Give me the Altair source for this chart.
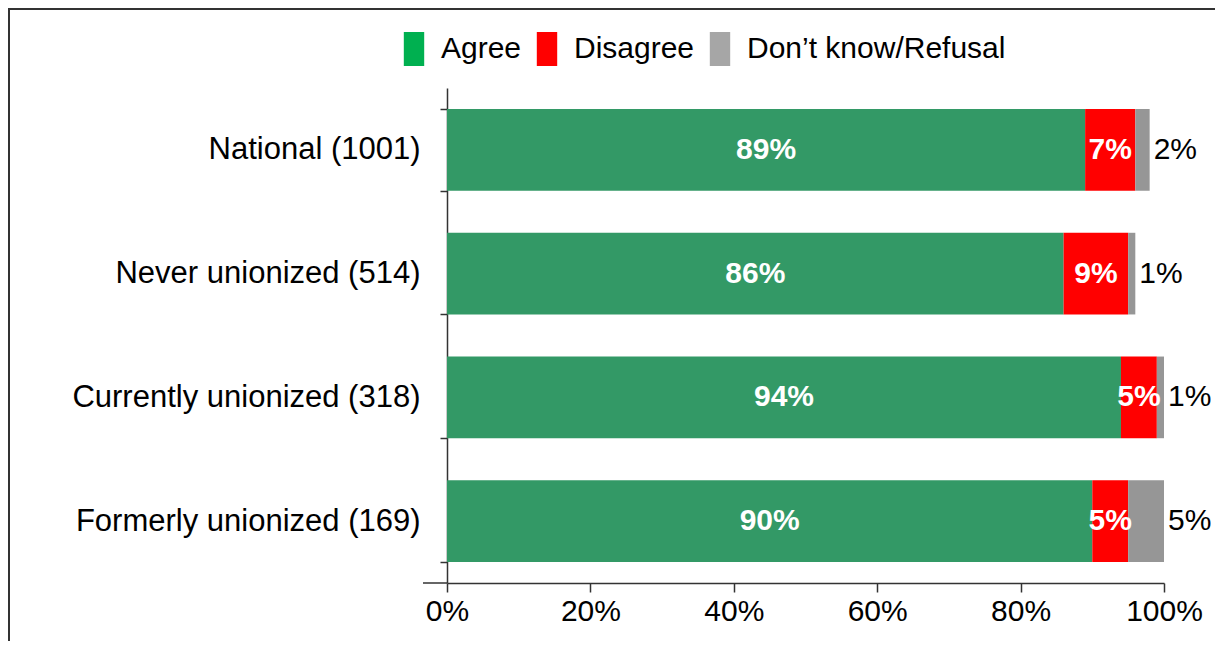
import altair as alt
import pandas as pd

groups = ["National (1001)", "Never unionized (514)", "Currently unionized (318)", "Formerly unionized (169)"]
responses = ["Agree", "Disagree", "Don\u2019t know/Refusal"]
agree = [89, 86, 94, 90]
disagree = [7, 9, 5, 5]
dontknow = [2, 1, 1, 5]

bar_colors = ["#339966", "#FF0000", "#969696"]
legend_colors = ["#00B050", "#FF0000", "#A6A6A6"]

rows = []
for i, g in enumerate(groups):
    for j, vals in enumerate([agree, disagree, dontknow]):
        rows.append({"group": g, "response": responses[j], "value": vals[i], "order": j})
df = pd.DataFrame(rows)

W, H = 717, 495
FONT = "Liberation Sans"
AX = "#333333"

base = alt.Chart(df).transform_stack(
    stack="value", groupby=["group"], as_=["start", "end"], sort=[alt.SortField("order")]
).transform_calculate(
    mid="(datum.start + datum.end) / 2", label="datum.value + '%'"
)

yenc = alt.Y(
    "group:N", sort=groups,
    scale=alt.Scale(paddingInner=0.34, paddingOuter=0.17),
    axis=alt.Axis(title=None, tickBand="extent", labelFont=FONT, labelFontSize=31,
                  labelColor="black", labelPadding=20, labelLimit=600, tickSize=7,
                  domainColor=AX, tickColor=AX, domainWidth=1.5, tickWidth=1.5, grid=False),
)
xscale = alt.Scale(domain=[0, 100], nice=False, zero=True)

bars = base.mark_bar().encode(
    x=alt.X("start:Q", scale=xscale,
            axis=alt.Axis(values=[0, 20, 40, 60, 80, 100], labelExpr="datum.value + '%'",
                          title=None, grid=False, labelFont=FONT, labelFontSize=30,
                          labelColor="black", labelFlush=False, tickSize=9, labelPadding=4,
                          domainColor=AX, tickColor=AX, domainWidth=1.5, tickWidth=1.5)),
    x2="end:Q",
    y=yenc,
    color=alt.Color("response:N", scale=alt.Scale(domain=responses, range=bar_colors), legend=None),
)

inner = base.transform_filter("datum.order < 2").mark_text(
    font=FONT, fontSize=30, fontWeight="bold", color="white", baseline="middle"
).encode(x=alt.X("mid:Q", scale=xscale), y=alt.Y("group:N", sort=groups), text="label:N")

outer = base.transform_filter("datum.order == 2").mark_text(
    font=FONT, fontSize=30, color="black", align="left", dx=4, baseline="middle"
).encode(x=alt.X("end:Q", scale=xscale), y=alt.Y("group:N", sort=groups), text="label:N")

legend_layer = alt.Chart(df).mark_square(opacity=0).encode(
    x=alt.X("value:Q", scale=xscale),
    y=alt.Y("group:N", sort=groups),
    color=alt.Color(
        "response:N",
        scale=alt.Scale(domain=responses, range=legend_colors),
        legend=alt.Legend(
            title=None, orient="none", direction="horizontal", legendX=-50, legendY=-56,
            symbolType="M-0.6,-1H0.6V1H-0.6Z", symbolSize=1156, symbolOpacity=1,
            symbolStrokeWidth=0, labelFont=FONT, labelFontSize=30, labelColor="black",
            labelOffset=10, columnPadding=8, labelLimit=600,
        ),
    ),
)

one = pd.DataFrame({"a": [0]})
border_top = alt.Chart(one).mark_rule(color=AX, strokeWidth=2).encode(
    x=alt.value(-439), x2=alt.value(W + 51), y=alt.value(-79))
border_left = alt.Chart(one).mark_rule(color=AX, strokeWidth=2).encode(
    x=alt.value(-438), y=alt.value(-80), y2=alt.value(H + 60))
axis_ext = alt.Chart(one).mark_rule(color=AX, strokeWidth=1.5).encode(
    x=alt.value(-24), x2=alt.value(0), y=alt.value(H))

chart = alt.layer(bars, inner, outer, legend_layer, border_top, border_left, axis_ext).resolve_scale(
    color="independent"
).properties(
    width=W, height=H,
    padding={"left": 439, "top": 80, "right": 51, "bottom": 58},
    autosize=alt.AutoSizeParams(type="none"),
).configure_view(stroke=None)

chart.save("out.html", embed_options={"renderer": "svg", "actions": False})
